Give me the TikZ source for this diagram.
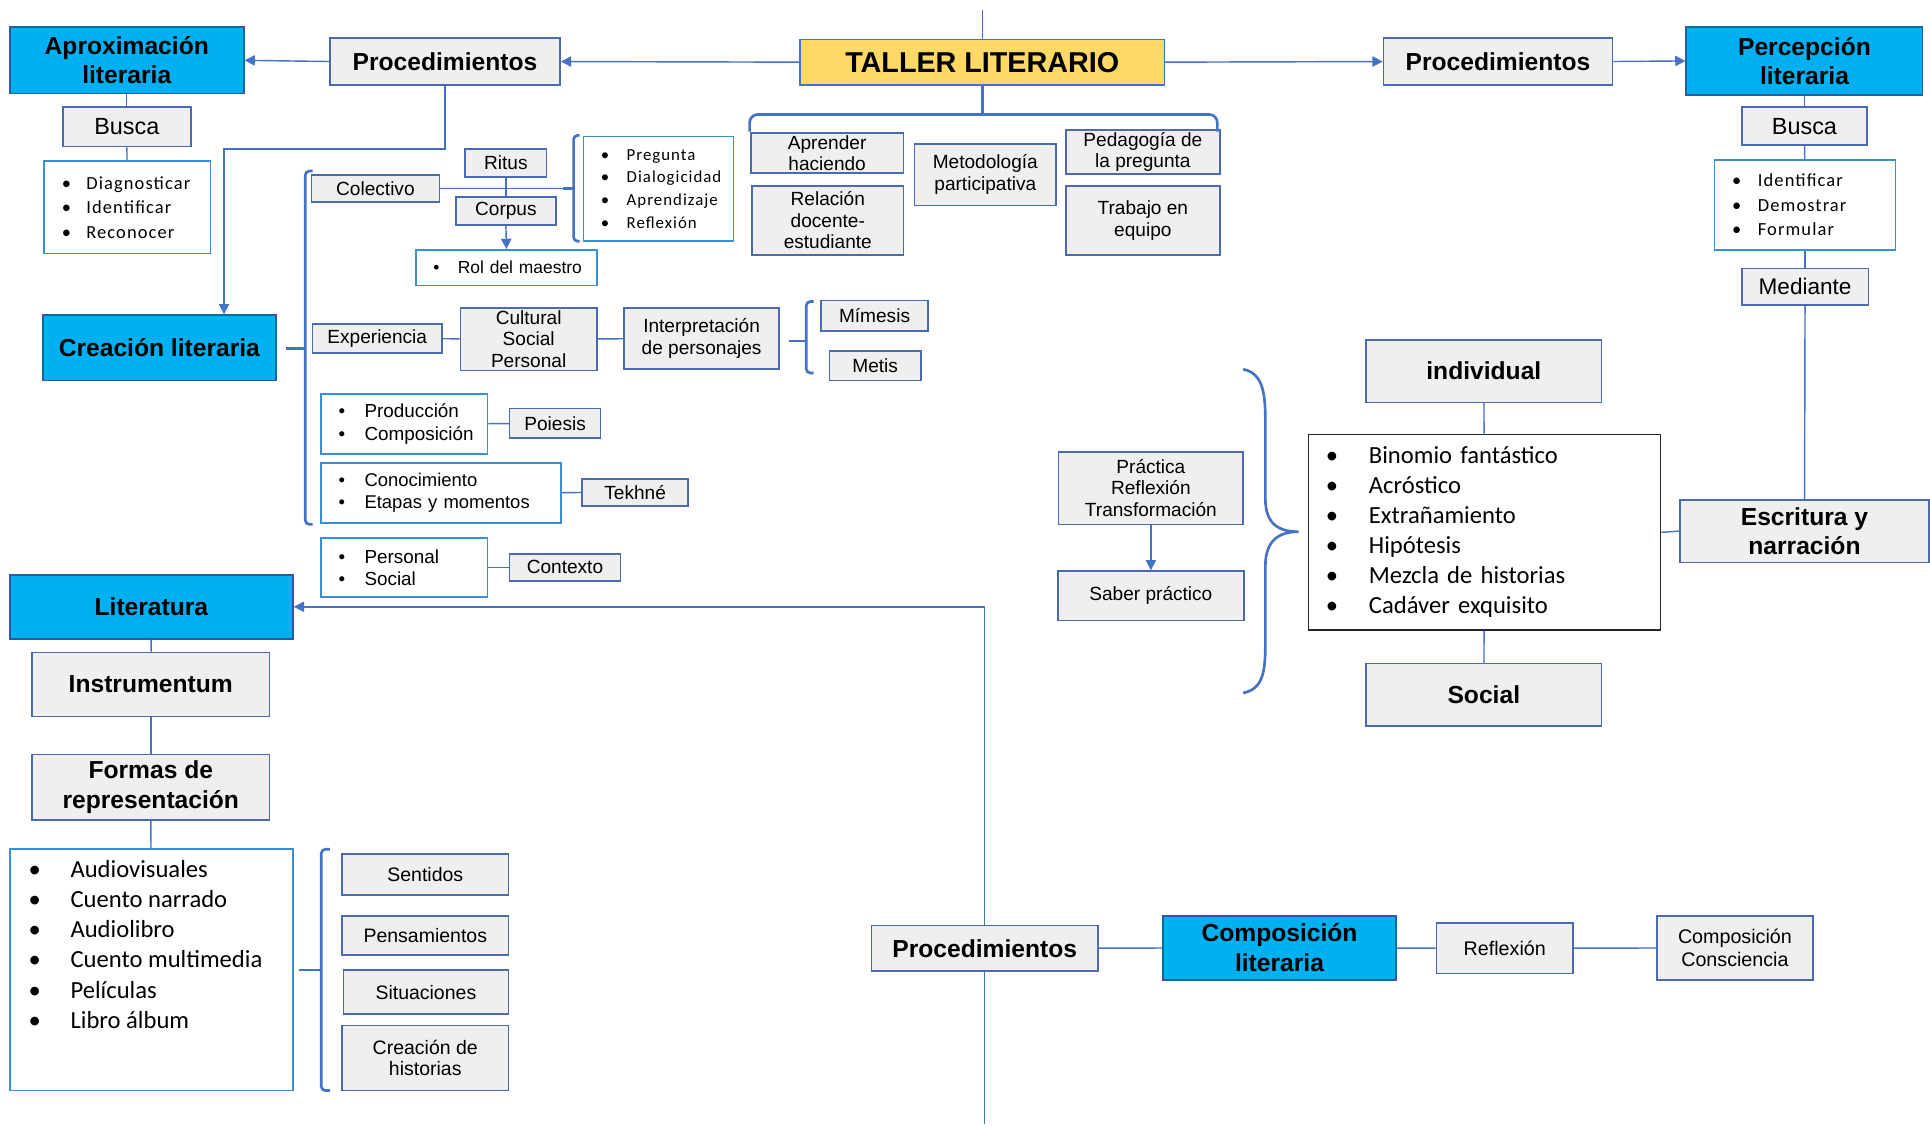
\documentclass[tikz,border=0pt]{standalone}
\usepackage{fontspec}
\setmainfont{Liberation Sans}
\newfontfamily\calib[LetterSpace=6]{Carlito}
\newfontfamily\calibn{Carlito}
\usetikzlibrary{arrows.meta}
\definecolor{cian}{HTML}{00B0F0}
\definecolor{amarillo}{HTML}{FFD966}
\definecolor{grisfondo}{HTML}{EFEFEF}
\definecolor{bordegris}{HTML}{4A6BB0}
\definecolor{bordecian}{HTML}{2E5A9E}
\definecolor{bordelista}{HTML}{3B8ED6}
\definecolor{azullinea}{HTML}{4472C4}
\newcommand{\bul}[1]{\makebox[#1][l]{\textbullet}}
\tikzset{
  sz/.style 2 args={minimum width=#1*0.6pt, minimum height=#2*0.6pt},
  caja/.style={shape=rectangle, draw=bordegris, fill=grisfondo, line width=0.8pt, inner sep=1pt, align=center, font=\fontsize{9.3}{10.6}\selectfont},
  cajanegrita/.style={caja, font=\fontsize{12}{14.4}\selectfont\bfseries},
  cajacian/.style={caja, draw=bordecian, fill=cian, font=\fontsize{12}{14.4}\selectfont\bfseries},
  lista/.style={shape=rectangle, draw=bordelista, fill=white, line width=0.8pt, inner xsep=8.5pt, inner ysep=1pt, align=left},
  linea/.style={color=azullinea, line width=0.7pt},
  flecha/.style={linea, -{Triangle[length=5pt,width=5pt]}},
  corchete/.style={draw=azullinea, line width=1.3pt, rounded corners=2pt},
}
\begin{document}
\begin{tikzpicture}[x=0.6pt, y=-0.6pt]
    \useasboundingbox (0,0) rectangle (1568,915);

    % fila superior
    \node[caja, draw=azullinea, fill=amarillo, sz={296}{37}, font=\fontsize{14}{16}\selectfont\bfseries] (taller) at (798,50.5) {TALLER LITERARIO};
    \node[cajanegrita, sz={187}{38}] (procI) at (361.5,50) {Procedimientos};
    \node[cajanegrita, sz={186}{38}] (procD) at (1217,50) {Procedimientos};
    \node[cajacian, sz={190}{54}] (aprox) at (103,49) {Aproximación\\literaria};
    \node[cajacian, sz={192}{55}] (percep) at (1466,49.5) {Percepción\\literaria};

    \node[caja, sz={124}{31}] (aprender) at (672,124.5) {Aprender\\haciendo};
    \node[caja, sz={123}{56}] (relacion) at (672.5,179) {Relación\\docente-\\estudiante};
    \node[caja, sz={115}{50}] (metodologia) at (800.5,142) {Metodología\\participativa};
    \node[caja, sz={125}{33}] (pedagogia) at (928.5,123.5) {Pedagogía de\\la pregunta};
    \node[caja, sz={125}{56}] (trabajo) at (928.5,179) {Trabajo en\\equipo};

    % aproximacion y creacion
    \node[caja, sz={104}{32}, font=\fontsize{11.4}{13}\selectfont] (buscaI) at (103,103) {Busca};
    \node[lista, sz={135}{75}, text width=64pt, font=\calib\fontsize{9}{12}\selectfont] (verbosI) at (103.5,168.5) {\bul{12pt}Diagnosticar\\\bul{12pt}Identificar\\\bul{12pt}Reconocer};
    \node[cajacian, sz={189}{53}] (creacion) at (129.5,282.5) {Creación literaria};

    \node[caja, sz={104}{22}] (colectivo) at (305,153) {Colectivo};
    \node[caja, sz={66}{23}] (ritus) at (411,132.5) {Ritus};
    \node[caja, sz={81}{23}] (corpus) at (411,171.5) {Corpus};
    \node[lista, sz={147}{29}, text width=78pt, inner xsep=5.1pt, font=\fontsize{8.5}{10}\selectfont] (rol) at (411.5,217.5) {\hspace*{3.3pt}\bul{12pt}Rol del maestro};
    \node[lista, sz={122}{85}, text width=56.2pt, font=\calib\fontsize{8.2}{11}\selectfont] (pregunta) at (535,153.5) {\bul{12.6pt}Pregunta\\\bul{12.6pt}Dialogicidad\\\bul{12.6pt}Aprendizaje\\\bul{12.6pt}Reflexión};

    \node[caja, sz={105}{24}] (experiencia) at (306.5,275) {Experiencia};
    \node[caja, sz={111}{51}] (cultural) at (429.5,275.5) {Cultural\\Social\\Personal};
    \node[caja, sz={126}{50}] (interpretacion) at (570,275) {Interpretación\\de personajes};
    \node[caja, sz={87}{25}] (mimesis) at (710.5,256.5) {Mímesis};
    \node[caja, sz={74}{24}] (metis) at (711,297) {Metis};

    \node[lista, sz={135}{49}, text width=64pt, font=\fontsize{9.2}{10.8}\selectfont] (produccion) at (328.5,344.5) {\bul{12.6pt}Producción\\\bul{12.6pt}Composición};
    \node[caja, sz={74}{24}] (poiesis) at (451,344) {Poiesis};
    \node[lista, sz={195}{49}, text width=100pt, font=\fontsize{9}{10.8}\selectfont] (conocimiento) at (358.5,400.5) {\bul{12.6pt}Conocimiento\\\bul{12.6pt}Etapas y momentos};
    \node[caja, sz={86}{22}] (tekhne) at (516,400) {Tekhné};
    \node[lista, sz={135}{48}, text width=64pt, font=\fontsize{9.2}{10.8}\selectfont] (contextos) at (328.5,461) {\bul{12.6pt}Personal\\\bul{12.6pt}Social};
    \node[caja, sz={90}{22}] (contexto) at (459,461) {Contexto};

    % literatura
    \node[cajacian, sz={230}{52}] (literatura) at (123,493) {Literatura};
    \node[cajanegrita, sz={193}{52}] (instrumentum) at (122.5,556) {Instrumentum};
    \node[cajanegrita, sz={193}{53}] (formas) at (122.5,639.5) {Formas de\\representación};
    \node[lista, sz={230}{196}] (formatos) at (123,788) {};
    \node[anchor=north west, inner sep=0pt, align=left, font=\calibn\fontsize{12}{14.64}\selectfont] (formatostxt) at (23,699) {\bul{20.4pt}Audiovisuales\\\bul{20.4pt}Cuento narrado\\\bul{20.4pt}Audiolibro\\\bul{20.4pt}Cuento multimedia\\\bul{20.4pt}Películas\\\bul{20.4pt}Libro álbum};
    \node[caja, sz={135}{33}, font=\fontsize{9.5}{10.6}\selectfont] (sentidos) at (345.5,710.5) {Sentidos};
    \node[caja, sz={135}{32}, font=\fontsize{9.5}{10.6}\selectfont] (pensamientos) at (345.5,760) {Pensamientos};
    \node[caja, sz={134}{36}, font=\fontsize{9.5}{10.6}\selectfont] (situaciones) at (346,806) {Situaciones};
    \node[caja, sz={135}{53}, font=\fontsize{9.5}{10.6}\selectfont] (creacionh) at (345.5,859.5) {Creación de\\historias};

    % composicion
    \node[cajanegrita, sz={184}{37}] (procA) at (800,770.5) {Procedimientos};
    \node[cajacian, sz={189}{52}] (complit) at (1039.5,770) {Composición\\literaria};
    \node[caja, sz={111}{41}, font=\fontsize{9.6}{10.6}\selectfont] (reflexion) at (1222.5,770.5) {Reflexión};
    \node[caja, sz={127}{52}, font=\fontsize{9.6}{10.8}\selectfont] (compcons) at (1409.5,770) {Composición\\Consciencia};

    % percepcion y escritura
    \node[caja, sz={102}{31}, font=\fontsize{11.4}{13}\selectfont] (buscaD) at (1466,102.5) {Busca};
    \node[lista, sz={147}{73}, text width=71.2pt, font=\calib\fontsize{9}{12}\selectfont] (verbosD) at (1466.5,166.5) {\bul{12.6pt}Identificar\\\bul{12.6pt}Demostrar\\\bul{12.6pt}Formular};
    \node[caja, sz={103}{30}, font=\fontsize{11}{13}\selectfont] (mediante) at (1466.5,233) {Mediante};
    \node[cajanegrita, sz={202}{51}] (escritura) at (1466,431.5) {Escritura y\\narración};
    \node[cajanegrita, sz={191}{51}] (individual) at (1205.5,301.5) {individual};
    \node[lista, draw=black!85, sz={286}{159}, text width=154.6pt, font=\calibn\fontsize{12}{14.64}\selectfont] (tecnicas) at (1206,432.5) {\bul{21pt}Binomio fantástico\\\bul{21pt}Acróstico\\\bul{21pt}Extrañamiento\\\bul{21pt}Hipótesis\\\bul{21pt}Mezcla de historias\\\bul{21pt}Cadáver exquisito};
    \node[cajanegrita, sz={191}{51}] (social) at (1205.5,564.5) {Social};
    \node[caja, sz={150}{59}] (practica) at (935,396.5) {Práctica\\Reflexión\\Transformación};
    \node[caja, sz={151}{40}] (saber) at (935,484) {Saber práctico};

    \coordinate (cima) at (798,8);
    \coordinate (base) at (800,913);
    \coordinate (codo) at (182,121);
    \coordinate (esquina) at (800,493);

    \path [linea] (cima) edge (taller.north);
    \path [flecha] (taller.west) edge (procI.east);
    \path [flecha] (procI.west) edge (aprox.east);
    \path [flecha] (taller.east) edge (procD.west);
    \path [flecha] (procD.east) edge (percep.west);
    \path [linea] (aprox) edge (buscaI);
    \path [linea] (buscaI) edge (verbosI);
    \draw [flecha] (procI.south) |- (codo) -- (codo |- creacion.north);
    \path [linea] (colectivo.east) edge (457,153);
    \path [linea] (ritus) edge (corpus);
    \path [flecha] (corpus.south) edge (rol.north);
    \path [linea] (experiencia) edge (cultural);
    \path [linea] (cultural) edge (interpretacion);
    \path [linea] (produccion) edge (poiesis);
    \path [linea] (conocimiento) edge (tekhne);
    \path [linea] (contextos) edge (contexto);
    \draw [flecha] (procA.north) -- (esquina) -- (esquina -| literatura.east);
    \path [linea] (procA.south) edge (base);
    \path [linea] (literatura) edge (instrumentum);
    \path [linea] (instrumentum) edge (formas);
    \path [linea] (formas) edge (formatos);
    \path [linea] (procA) edge (complit);
    \path [linea] (complit) edge (reflexion);
    \path [linea] (reflexion) edge (compcons);
    \path [linea] (percep) edge (buscaD);
    \path [linea] (buscaD) edge (verbosD);
    \path [linea] (verbosD) edge (mediante);
    \path [linea] (mediante) edge (escritura);
    \path [linea] (individual) edge (tecnicas);
    \path [linea] (tecnicas) edge (social);
    \path [linea] (tecnicas.east) edge (escritura.west);
    \path [flecha] (practica) edge (saber);

    % corchetes
    \draw [corchete, rounded corners=4pt] (609,107) -- (609,93) -- (989,93) -- (989,107);
    \draw [corchete, rounded corners=0pt] (taller.south) -- (798,93);
    \draw [corchete] (254,139) -- (248,139) -- (248,426) -- (254,426);
    \draw [corchete] (232,283) -- (248,283);
    \draw [corchete] (471,110) -- (466,110) -- (466,196) -- (471,196);
    \draw [corchete] (457,153) -- (466,153);
    \draw [corchete] (661,245) -- (655,245) -- (655,303) -- (661,303);
    \draw [corchete] (641,277) -- (655,277);
    \draw [corchete] (268,690) -- (261,690) -- (261,886) -- (268,886);
    \draw [corchete] (243,788) -- (261,788);
    \draw [draw=azullinea, line width=1.3pt] (1010,300) .. controls (1024,303) and (1028,315) .. (1028,340) -- (1028,405) .. controls (1028,425) and (1038,432) .. (1055,432) .. controls (1038,432) and (1028,440) .. (1028,460) -- (1028,525) .. controls (1028,550) and (1024,560) .. (1010,563);
\end{tikzpicture}
\end{document}
